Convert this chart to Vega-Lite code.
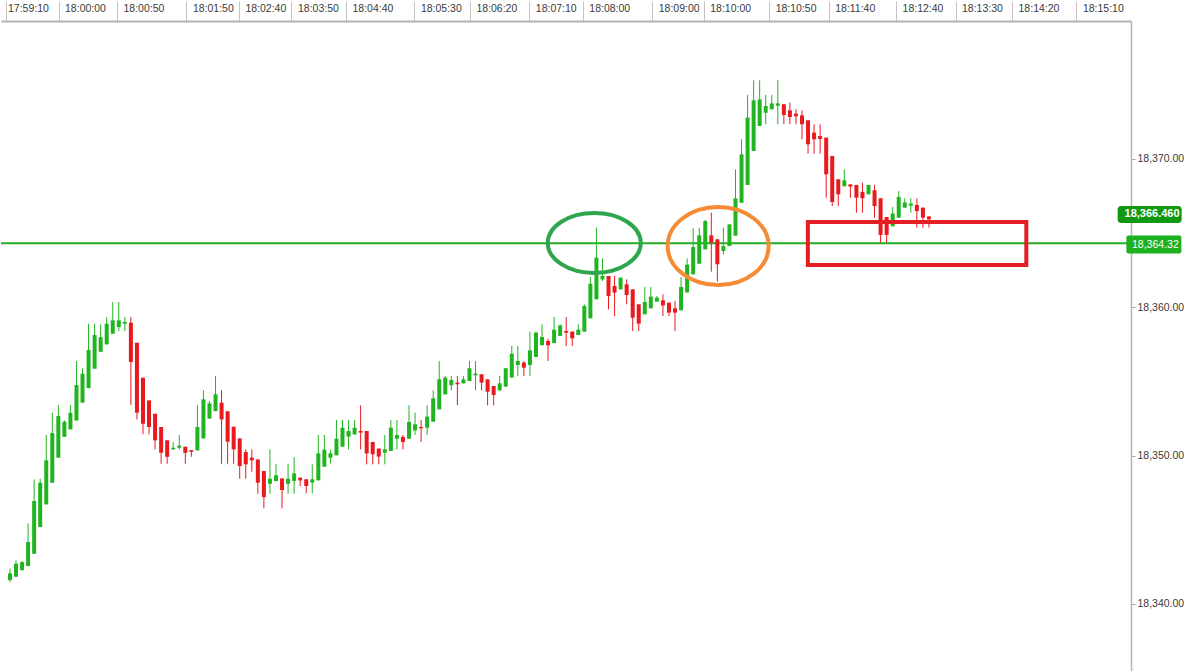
{
  "$schema": "https://vega.github.io/schema/vega-lite/v6.json",
  "description": "Tick candles with the 18,364.32 level, two circled touches and a box on the retest",
  "background": "white",
  "padding": 0,
  "autosize": {"type": "pad"},
  "width": 1130,
  "height": 651,
  "config": {
    "view": {"stroke": null},
    "axis": {"labelFont": "Liberation Sans", "labelColor": "#3a3a3a", "grid": false}
  },
  "datasets": {
    "candles": [
      {"i": 1, "open": 18341.61, "high": 18342.39, "low": 18341.47, "close": 18342.06},
      {"i": 2, "open": 18341.83, "high": 18342.93, "low": 18341.83, "close": 18342.71},
      {"i": 3, "open": 18342.28, "high": 18342.89, "low": 18342.24, "close": 18342.82},
      {"i": 4, "open": 18342.55, "high": 18345.43, "low": 18342.55, "close": 18344.17},
      {"i": 5, "open": 18343.38, "high": 18348.40, "low": 18343.38, "close": 18346.94},
      {"i": 6, "open": 18345.18, "high": 18348.44, "low": 18345.18, "close": 18348.17},
      {"i": 7, "open": 18346.71, "high": 18351.39, "low": 18346.71, "close": 18349.68},
      {"i": 8, "open": 18348.17, "high": 18352.89, "low": 18348.17, "close": 18351.52},
      {"i": 9, "open": 18349.86, "high": 18353.41, "low": 18349.86, "close": 18352.67},
      {"i": 10, "open": 18351.27, "high": 18352.38, "low": 18351.27, "close": 18352.28},
      {"i": 11, "open": 18351.77, "high": 18353.41, "low": 18351.77, "close": 18352.89},
      {"i": 12, "open": 18352.37, "high": 18356.38, "low": 18352.37, "close": 18354.76},
      {"i": 13, "open": 18353.57, "high": 18355.88, "low": 18353.57, "close": 18355.52},
      {"i": 14, "open": 18354.55, "high": 18358.89, "low": 18354.55, "close": 18357.12},
      {"i": 15, "open": 18355.86, "high": 18358.89, "low": 18355.86, "close": 18358.13},
      {"i": 16, "open": 18357.00, "high": 18358.85, "low": 18357.00, "close": 18357.99},
      {"i": 17, "open": 18357.50, "high": 18359.34, "low": 18357.50, "close": 18358.89},
      {"i": 18, "open": 18358.22, "high": 18360.35, "low": 18358.22, "close": 18359.12},
      {"i": 19, "open": 18358.67, "high": 18360.35, "low": 18358.40, "close": 18359.12},
      {"i": 20, "open": 18358.89, "high": 18359.34, "low": 18358.40, "close": 18359.01},
      {"i": 21, "open": 18358.96, "high": 18359.34, "low": 18353.41, "close": 18356.31},
      {"i": 22, "open": 18357.61, "high": 18357.61, "low": 18352.44, "close": 18352.89},
      {"i": 23, "open": 18355.25, "high": 18355.25, "low": 18351.43, "close": 18352.15},
      {"i": 24, "open": 18353.72, "high": 18353.72, "low": 18351.43, "close": 18351.93},
      {"i": 25, "open": 18352.82, "high": 18352.82, "low": 18350.42, "close": 18351.03},
      {"i": 26, "open": 18351.93, "high": 18351.93, "low": 18349.45, "close": 18350.19},
      {"i": 27, "open": 18351.03, "high": 18351.03, "low": 18349.45, "close": 18349.92},
      {"i": 28, "open": 18350.42, "high": 18350.91, "low": 18350.42, "close": 18350.53},
      {"i": 29, "open": 18350.53, "high": 18351.39, "low": 18350.42, "close": 18350.67},
      {"i": 30, "open": 18350.60, "high": 18350.60, "low": 18349.45, "close": 18350.19},
      {"i": 31, "open": 18350.37, "high": 18350.37, "low": 18349.92, "close": 18350.26},
      {"i": 32, "open": 18350.35, "high": 18353.41, "low": 18350.35, "close": 18351.93},
      {"i": 33, "open": 18351.16, "high": 18354.40, "low": 18351.16, "close": 18353.79},
      {"i": 34, "open": 18352.49, "high": 18353.68, "low": 18352.49, "close": 18353.52},
      {"i": 35, "open": 18353.00, "high": 18355.36, "low": 18353.00, "close": 18354.13},
      {"i": 36, "open": 18353.57, "high": 18354.40, "low": 18349.45, "close": 18352.44},
      {"i": 37, "open": 18352.99, "high": 18352.99, "low": 18349.45, "close": 18350.94},
      {"i": 38, "open": 18351.95, "high": 18351.95, "low": 18349.45, "close": 18350.42},
      {"i": 39, "open": 18351.16, "high": 18351.16, "low": 18348.44, "close": 18349.30},
      {"i": 40, "open": 18350.24, "high": 18350.42, "low": 18348.44, "close": 18349.41},
      {"i": 41, "open": 18349.86, "high": 18350.42, "low": 18348.91, "close": 18349.68},
      {"i": 42, "open": 18349.74, "high": 18349.74, "low": 18347.43, "close": 18348.17},
      {"i": 43, "open": 18348.96, "high": 18348.96, "low": 18346.44, "close": 18347.20},
      {"i": 44, "open": 18348.10, "high": 18350.42, "low": 18347.43, "close": 18348.44},
      {"i": 45, "open": 18348.28, "high": 18349.45, "low": 18348.28, "close": 18348.67},
      {"i": 46, "open": 18348.46, "high": 18348.46, "low": 18346.44, "close": 18347.68},
      {"i": 47, "open": 18348.10, "high": 18349.45, "low": 18347.43, "close": 18348.44},
      {"i": 48, "open": 18348.29, "high": 18349.90, "low": 18347.43, "close": 18348.80},
      {"i": 49, "open": 18348.51, "high": 18348.51, "low": 18347.95, "close": 18348.33},
      {"i": 50, "open": 18348.40, "high": 18348.40, "low": 18347.46, "close": 18347.95},
      {"i": 51, "open": 18348.18, "high": 18349.41, "low": 18347.46, "close": 18348.40},
      {"i": 52, "open": 18348.33, "high": 18351.39, "low": 18348.33, "close": 18350.15},
      {"i": 53, "open": 18349.25, "high": 18351.39, "low": 18349.25, "close": 18350.40},
      {"i": 54, "open": 18349.86, "high": 18350.40, "low": 18349.46, "close": 18350.15},
      {"i": 55, "open": 18350.02, "high": 18352.40, "low": 18350.02, "close": 18351.14},
      {"i": 56, "open": 18350.60, "high": 18352.40, "low": 18350.60, "close": 18351.88},
      {"i": 57, "open": 18351.28, "high": 18352.40, "low": 18350.42, "close": 18351.66},
      {"i": 58, "open": 18351.43, "high": 18352.40, "low": 18351.43, "close": 18351.88},
      {"i": 59, "open": 18351.66, "high": 18353.39, "low": 18350.42, "close": 18351.55},
      {"i": 60, "open": 18351.66, "high": 18351.66, "low": 18349.41, "close": 18350.15},
      {"i": 61, "open": 18350.92, "high": 18350.92, "low": 18349.41, "close": 18350.09},
      {"i": 62, "open": 18350.47, "high": 18350.47, "low": 18349.41, "close": 18349.93},
      {"i": 63, "open": 18350.20, "high": 18351.39, "low": 18349.41, "close": 18350.42},
      {"i": 64, "open": 18350.31, "high": 18352.40, "low": 18350.31, "close": 18351.88},
      {"i": 65, "open": 18351.14, "high": 18352.40, "low": 18350.42, "close": 18351.39},
      {"i": 66, "open": 18351.26, "high": 18351.39, "low": 18350.42, "close": 18350.92},
      {"i": 67, "open": 18351.14, "high": 18353.39, "low": 18351.14, "close": 18352.27},
      {"i": 68, "open": 18351.70, "high": 18352.90, "low": 18351.39, "close": 18352.11},
      {"i": 69, "open": 18351.93, "high": 18352.40, "low": 18350.92, "close": 18351.84},
      {"i": 70, "open": 18351.88, "high": 18353.39, "low": 18351.39, "close": 18352.63},
      {"i": 71, "open": 18352.29, "high": 18354.40, "low": 18352.29, "close": 18353.86},
      {"i": 72, "open": 18353.12, "high": 18356.38, "low": 18353.12, "close": 18355.14},
      {"i": 73, "open": 18354.13, "high": 18355.37, "low": 18354.13, "close": 18355.26},
      {"i": 74, "open": 18354.74, "high": 18355.37, "low": 18354.40, "close": 18355.10},
      {"i": 75, "open": 18354.92, "high": 18355.37, "low": 18353.39, "close": 18354.81},
      {"i": 76, "open": 18354.87, "high": 18355.37, "low": 18354.87, "close": 18355.14},
      {"i": 77, "open": 18355.03, "high": 18356.38, "low": 18355.03, "close": 18355.89},
      {"i": 78, "open": 18355.41, "high": 18356.38, "low": 18354.40, "close": 18355.53},
      {"i": 79, "open": 18355.48, "high": 18355.48, "low": 18354.40, "close": 18354.92},
      {"i": 80, "open": 18355.14, "high": 18355.14, "low": 18353.39, "close": 18354.31},
      {"i": 81, "open": 18354.69, "high": 18354.69, "low": 18353.39, "close": 18354.09},
      {"i": 82, "open": 18354.40, "high": 18355.37, "low": 18354.40, "close": 18354.87},
      {"i": 83, "open": 18354.65, "high": 18355.89, "low": 18354.65, "close": 18355.89},
      {"i": 84, "open": 18355.26, "high": 18357.39, "low": 18355.26, "close": 18356.87},
      {"i": 85, "open": 18356.11, "high": 18357.39, "low": 18355.37, "close": 18356.38},
      {"i": 86, "open": 18356.27, "high": 18356.38, "low": 18355.37, "close": 18355.93},
      {"i": 87, "open": 18356.11, "high": 18358.36, "low": 18355.37, "close": 18357.10},
      {"i": 88, "open": 18356.65, "high": 18358.36, "low": 18356.65, "close": 18358.29},
      {"i": 89, "open": 18357.44, "high": 18358.85, "low": 18357.44, "close": 18358.00},
      {"i": 90, "open": 18357.73, "high": 18357.89, "low": 18356.38, "close": 18357.44},
      {"i": 91, "open": 18357.59, "high": 18359.35, "low": 18357.59, "close": 18358.49},
      {"i": 92, "open": 18358.07, "high": 18358.85, "low": 18358.07, "close": 18358.78},
      {"i": 93, "open": 18358.40, "high": 18359.35, "low": 18357.39, "close": 18358.29},
      {"i": 94, "open": 18358.36, "high": 18358.36, "low": 18357.39, "close": 18357.91},
      {"i": 95, "open": 18358.13, "high": 18358.85, "low": 18358.13, "close": 18358.49},
      {"i": 96, "open": 18358.36, "high": 18360.20, "low": 18358.36, "close": 18360.09},
      {"i": 97, "open": 18359.26, "high": 18362.04, "low": 18359.26, "close": 18361.59},
      {"i": 98, "open": 18360.54, "high": 18365.37, "low": 18360.54, "close": 18363.35},
      {"i": 99, "open": 18361.88, "high": 18363.30, "low": 18361.77, "close": 18362.11},
      {"i": 100, "open": 18362.11, "high": 18362.11, "low": 18359.86, "close": 18360.76},
      {"i": 101, "open": 18361.44, "high": 18362.11, "low": 18359.41, "close": 18360.99},
      {"i": 102, "open": 18361.21, "high": 18362.00, "low": 18361.21, "close": 18362.00},
      {"i": 103, "open": 18361.55, "high": 18361.88, "low": 18360.20, "close": 18360.83},
      {"i": 104, "open": 18361.21, "high": 18361.21, "low": 18358.40, "close": 18359.30},
      {"i": 105, "open": 18360.20, "high": 18360.20, "low": 18358.40, "close": 18358.90},
      {"i": 106, "open": 18359.53, "high": 18361.37, "low": 18359.53, "close": 18360.36},
      {"i": 107, "open": 18359.93, "high": 18361.37, "low": 18359.93, "close": 18360.72},
      {"i": 108, "open": 18360.38, "high": 18360.76, "low": 18360.38, "close": 18360.65},
      {"i": 109, "open": 18360.47, "high": 18360.87, "low": 18359.41, "close": 18360.13},
      {"i": 110, "open": 18360.31, "high": 18360.31, "low": 18359.41, "close": 18359.64},
      {"i": 111, "open": 18359.93, "high": 18360.42, "low": 18358.40, "close": 18359.64},
      {"i": 112, "open": 18359.80, "high": 18362.04, "low": 18359.80, "close": 18361.37},
      {"i": 113, "open": 18361.00, "high": 18363.30, "low": 18361.00, "close": 18362.88},
      {"i": 114, "open": 18362.22, "high": 18365.32, "low": 18362.22, "close": 18364.07},
      {"i": 115, "open": 18362.94, "high": 18365.37, "low": 18362.94, "close": 18364.85},
      {"i": 116, "open": 18363.91, "high": 18365.90, "low": 18363.91, "close": 18365.82},
      {"i": 117, "open": 18364.85, "high": 18366.38, "low": 18362.40, "close": 18364.36},
      {"i": 118, "open": 18364.58, "high": 18364.60, "low": 18361.73, "close": 18362.90},
      {"i": 119, "open": 18363.80, "high": 18365.37, "low": 18363.57, "close": 18364.13},
      {"i": 120, "open": 18364.13, "high": 18365.60, "low": 18364.13, "close": 18365.59},
      {"i": 121, "open": 18364.83, "high": 18369.30, "low": 18364.83, "close": 18367.34},
      {"i": 122, "open": 18367.05, "high": 18371.33, "low": 18367.05, "close": 18370.31},
      {"i": 123, "open": 18368.25, "high": 18374.32, "low": 18368.25, "close": 18372.79},
      {"i": 124, "open": 18370.54, "high": 18375.31, "low": 18370.54, "close": 18373.96},
      {"i": 125, "open": 18372.23, "high": 18375.31, "low": 18372.23, "close": 18374.02},
      {"i": 126, "open": 18373.12, "high": 18374.32, "low": 18372.34, "close": 18373.57},
      {"i": 127, "open": 18373.35, "high": 18374.32, "low": 18373.35, "close": 18373.75},
      {"i": 128, "open": 18373.59, "high": 18375.31, "low": 18372.34, "close": 18373.75},
      {"i": 129, "open": 18373.69, "high": 18373.69, "low": 18372.34, "close": 18372.97},
      {"i": 130, "open": 18373.28, "high": 18373.80, "low": 18372.34, "close": 18372.83},
      {"i": 131, "open": 18373.06, "high": 18373.35, "low": 18372.34, "close": 18372.88},
      {"i": 132, "open": 18372.94, "high": 18373.28, "low": 18371.33, "close": 18372.34},
      {"i": 133, "open": 18372.61, "high": 18372.61, "low": 18370.36, "close": 18370.99},
      {"i": 134, "open": 18371.78, "high": 18372.34, "low": 18370.36, "close": 18371.33},
      {"i": 135, "open": 18371.55, "high": 18372.34, "low": 18370.36, "close": 18371.35},
      {"i": 136, "open": 18371.44, "high": 18371.44, "low": 18367.39, "close": 18368.97},
      {"i": 137, "open": 18370.20, "high": 18370.20, "low": 18366.83, "close": 18367.10},
      {"i": 138, "open": 18368.63, "high": 18368.63, "low": 18366.83, "close": 18367.62},
      {"i": 139, "open": 18368.16, "high": 18369.30, "low": 18368.16, "close": 18368.56},
      {"i": 140, "open": 18368.29, "high": 18368.29, "low": 18367.39, "close": 18368.14},
      {"i": 141, "open": 18368.25, "high": 18368.25, "low": 18366.38, "close": 18367.39},
      {"i": 142, "open": 18367.78, "high": 18368.40, "low": 18366.38, "close": 18367.35},
      {"i": 143, "open": 18367.62, "high": 18368.25, "low": 18367.62, "close": 18368.25},
      {"i": 144, "open": 18367.89, "high": 18368.25, "low": 18366.04, "close": 18366.83},
      {"i": 145, "open": 18367.35, "high": 18367.35, "low": 18364.36, "close": 18364.88},
      {"i": 146, "open": 18366.09, "high": 18366.09, "low": 18364.36, "close": 18364.88},
      {"i": 147, "open": 18365.46, "high": 18366.76, "low": 18365.46, "close": 18366.32},
      {"i": 148, "open": 18366.04, "high": 18367.84, "low": 18366.04, "close": 18367.44},
      {"i": 149, "open": 18366.72, "high": 18367.35, "low": 18366.72, "close": 18367.06},
      {"i": 150, "open": 18366.85, "high": 18367.35, "low": 18366.38, "close": 18366.99},
      {"i": 151, "open": 18366.90, "high": 18367.35, "low": 18365.37, "close": 18366.49},
      {"i": 152, "open": 18366.72, "high": 18366.72, "low": 18365.37, "close": 18366.04},
      {"i": 153, "open": 18366.13, "high": 18366.13, "low": 18365.37, "close": 18365.93}
    ],
    "levels": [
      {"name": "last", "price": 18366.46},
      {"name": "line", "price": 18364.32}
    ],
    "marks": [
      {"name": "green", "i": 97.64, "price": 18364.34},
      {"name": "orange", "i": 118.13, "price": 18364.13}
    ],
    "zone": [
      {"i": 132.97, "i2": 169.1, "price": 18365.75, "price2": 18362.85}
    ]
  },
  "layer": [
    {
      "data": {"name": "levels"},
      "transform": [{"filter": "datum.name == 'line'"}],
      "mark": {"type": "rule", "color": "#22b022", "strokeWidth": 2},
      "encoding": {
        "y": {"field": "price", "type": "quantitative", "title": null,
              "scale": {"domain": [18335.408, 18379.305], "nice": false, "zero": false}}
      }
    },
    {
      "data": {"name": "candles"},
      "mark": {"type": "rule", "strokeWidth": 1},
      "encoding": {
        "x": {
          "field": "i", "type": "quantitative", "title": null,
          "scale": {"domain": [0.3443, 185.59], "nice": false, "zero": false},
          "axis": {
            "orient": "top",
            "values": [0.3443, 9.033, 18.705, 30.18, 38.87, 47.56, 56.57, 67.89, 77.07, 86.9, 95.75, 107.23, 115.75, 126.57, 136.41, 147.56, 157.39, 166.74, 177.39],
            "labelExpr": "['17:59:10','18:00:00','18:00:50','18:01:50','18:02:40','18:03:50','18:04:40','18:05:30','18:06:20','18:07:10','18:08:00','18:09:00','18:10:00','18:10:50','18:11:40','18:12:40','18:13:30','18:14:20','18:15:10'][indexof([0.3443, 9.033, 18.705, 30.18, 38.87, 47.56, 56.57, 67.89, 77.07, 86.9, 95.75, 107.23, 115.75, 126.57, 136.41, 147.56, 157.39, 166.74, 177.39], datum.value)]",
            "tickSize": 20,
            "tickColor": "#c4c4c4",
            "tickWidth": 1,
            "domainColor": "#b4b4b4",
            "domainWidth": 2,
            "labelAlign": "left",
            "labelBaseline": "middle",
            "labelPadding": -7,
            "labelOffset": {"condition": {"test": "datum.value < 1", "value": 1.5}, "value": 6},
            "labelFontSize": 10.5,
            "labelFlush": false,
            "labelOverlap": false,
            "labelBound": false
          }
        },
        "y": {
          "field": "low", "type": "quantitative", "title": null,
          "scale": {"domain": [18335.408, 18379.305], "nice": false, "zero": false},
          "axis": {
            "orient": "right",
            "values": [18340, 18350, 18360, 18370],
            "format": ",.2f",
            "tickSize": 4,
            "tickColor": "#a8a8a8",
            "domainColor": "#b4b4b4",
            "domainWidth": 1.5,
            "labelPadding": 2,
            "labelFontSize": 10.5
          }
        },
        "y2": {"field": "high"},
        "color": {"condition": {"test": "datum.close >= datum.open", "value": "#21b421"}, "value": "#e8191f"}
      }
    },
    {
      "data": {"name": "candles"},
      "mark": {"type": "bar", "width": 4},
      "encoding": {
        "x": {"field": "i", "type": "quantitative", "title": null,
              "scale": {"domain": [0.3443, 185.59], "nice": false, "zero": false}},
        "y": {"field": "open", "type": "quantitative", "title": null,
              "scale": {"domain": [18335.408, 18379.305], "nice": false, "zero": false}},
        "y2": {"field": "close"},
        "color": {"condition": {"test": "datum.close >= datum.open", "value": "#21b421"}, "value": "#e8191f"}
      }
    },
    {
      "data": {"name": "marks"},
      "transform": [{"filter": "datum.name == 'green'"}],
      "mark": {"type": "point", "filled": false, "opacity": 1, "color": "#2ea64e", "strokeWidth": 4,
               "shape": "M-1,0A1,0.645,0,1,1,1,0A1,0.645,0,1,1,-1,0Z", "size": 8649},
      "encoding": {
        "x": {"field": "i", "type": "quantitative", "title": null,
              "scale": {"domain": [0.3443, 185.59], "nice": false, "zero": false}},
        "y": {"field": "price", "type": "quantitative", "title": null,
              "scale": {"domain": [18335.408, 18379.305], "nice": false, "zero": false}}
      }
    },
    {
      "data": {"name": "marks"},
      "transform": [{"filter": "datum.name == 'orange'"}],
      "mark": {"type": "point", "filled": false, "opacity": 1, "color": "#f68b35", "strokeWidth": 4,
               "shape": "M-1,0A1,0.772,0,1,1,1,0A1,0.772,0,1,1,-1,0Z", "size": 10201},
      "encoding": {
        "x": {"field": "i", "type": "quantitative", "title": null,
              "scale": {"domain": [0.3443, 185.59], "nice": false, "zero": false}},
        "y": {"field": "price", "type": "quantitative", "title": null,
              "scale": {"domain": [18335.408, 18379.305], "nice": false, "zero": false}}
      }
    },
    {
      "data": {"name": "zone"},
      "mark": {"type": "rect", "filled": false, "color": "#e31e25", "strokeWidth": 4},
      "encoding": {
        "x": {"field": "i", "type": "quantitative", "title": null,
              "scale": {"domain": [0.3443, 185.59], "nice": false, "zero": false}},
        "x2": {"field": "i2"},
        "y": {"field": "price", "type": "quantitative", "title": null,
              "scale": {"domain": [18335.408, 18379.305], "nice": false, "zero": false}},
        "y2": {"field": "price2"}
      }
    },
    {
      "data": {"name": "levels"},
      "transform": [{"filter": "datum.name == 'line'"}],
      "mark": {"type": "point", "filled": true, "opacity": 1, "color": "#1fb01f", "yOffset": 1.3,
               "shape": "M-0.93,-0.327L0.93,-0.327A0.07,0.07,0,0,1,1,-0.257L1,0.257A0.07,0.07,0,0,1,0.93,0.327L-0.93,0.327A0.07,0.07,0,0,1,-1,0.257L-1,-0.257A0.07,0.07,0,0,1,-0.93,-0.327Z",
               "size": 3025},
      "encoding": {
        "x": {"datum": 190.2, "type": "quantitative", "title": null,
              "scale": {"domain": [0.3443, 185.59], "nice": false, "zero": false}},
        "y": {"field": "price", "type": "quantitative", "title": null,
              "scale": {"domain": [18335.408, 18379.305], "nice": false, "zero": false}}
      }
    },
    {
      "data": {"name": "levels"},
      "transform": [{"filter": "datum.name == 'line'"}],
      "mark": {"type": "text", "color": "white", "font": "Liberation Sans", "fontSize": 10.5,
               "align": "center", "baseline": "middle", "yOffset": 1.3},
      "encoding": {
        "x": {"datum": 190.45, "type": "quantitative", "title": null,
              "scale": {"domain": [0.3443, 185.59], "nice": false, "zero": false}},
        "y": {"field": "price", "type": "quantitative", "title": null,
              "scale": {"domain": [18335.408, 18379.305], "nice": false, "zero": false}},
        "text": {"field": "price", "type": "quantitative", "format": ",.2f"}
      }
    },
    {
      "data": {"name": "levels"},
      "transform": [{"filter": "datum.name == 'last'"}],
      "mark": {"type": "point", "filled": true, "opacity": 1, "color": "#119811", "yOffset": 3,
               "shape": "M-0.9,-0.266L0.9,-0.266A0.1,0.1,0,0,1,1,-0.166L1,0.166A0.1,0.1,0,0,1,0.9,0.266L-0.9,0.266A0.1,0.1,0,0,1,-1,0.166L-1,-0.166A0.1,0.1,0,0,1,-0.9,-0.266Z",
               "size": 4096},
      "encoding": {
        "x": {"datum": 189.5, "type": "quantitative", "title": null,
              "scale": {"domain": [0.3443, 185.59], "nice": false, "zero": false}},
        "y": {"field": "price", "type": "quantitative", "title": null,
              "scale": {"domain": [18335.408, 18379.305], "nice": false, "zero": false}}
      }
    },
    {
      "data": {"name": "levels"},
      "transform": [{"filter": "datum.name == 'last'"}],
      "mark": {"type": "text", "color": "white", "font": "Liberation Sans", "fontSize": 11,
               "fontWeight": "bold", "align": "center", "baseline": "middle", "yOffset": 3},
      "encoding": {
        "x": {"datum": 189.9, "type": "quantitative", "title": null,
              "scale": {"domain": [0.3443, 185.59], "nice": false, "zero": false}},
        "y": {"field": "price", "type": "quantitative", "title": null,
              "scale": {"domain": [18335.408, 18379.305], "nice": false, "zero": false}},
        "text": {"field": "price", "type": "quantitative", "format": ",.3f"}
      }
    }
  ]
}
